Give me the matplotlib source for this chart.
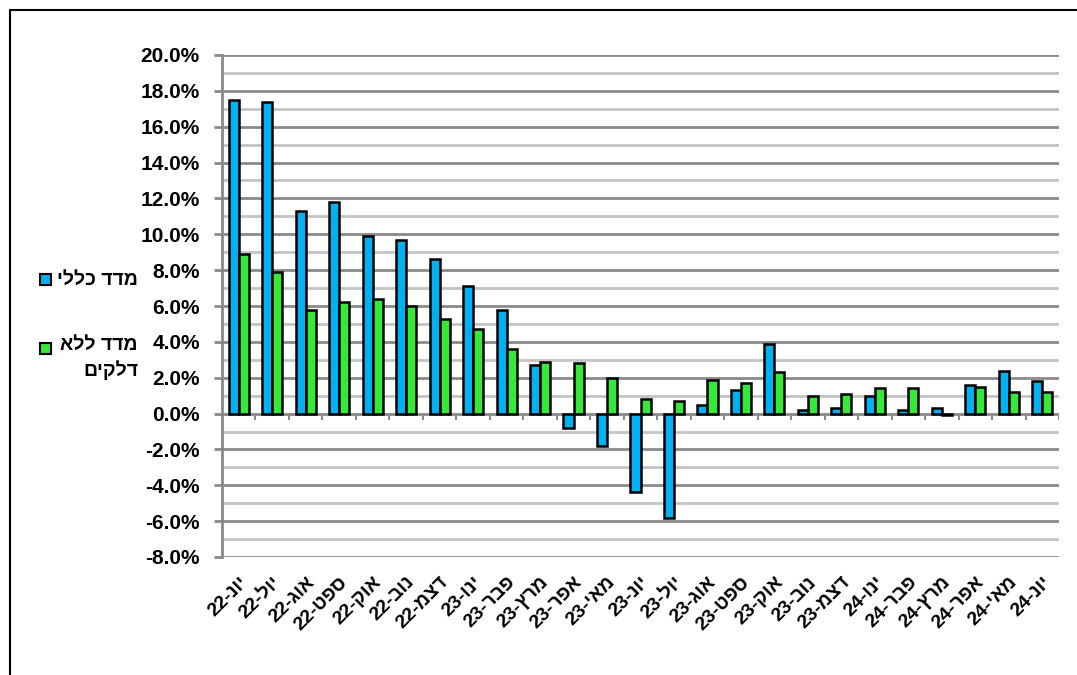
import numpy as np
import matplotlib
matplotlib.use('Agg')
import matplotlib.pyplot as plt
from matplotlib.patches import Rectangle

# data, month names in logical Hebrew order
months = ['יונ', 'יול', 'אוג', 'ספט', 'אוק', 'נוב', 'דצמ',
          'ינו', 'פבר', 'מרץ', 'אפר', 'מאי', 'יונ', 'יול', 'אוג', 'ספט', 'אוק', 'נוב', 'דצמ',
          'ינו', 'פבר', 'מרץ', 'אפר', 'מאי', 'יונ']
years = ['22'] * 7 + ['23'] * 12 + ['24'] * 6

general = [17.5, 17.4, 11.3, 11.8, 9.9, 9.7, 8.6, 7.1, 5.8, 2.7, -0.8, -1.8, -4.4,
           -5.8, 0.5, 1.3, 3.9, 0.2, 0.3, 1.0, 0.2, 0.3, 1.6, 2.4, 1.8]
no_fuel = [8.9, 7.9, 5.8, 6.2, 6.4, 6.0, 5.3, 4.7, 3.6, 2.9, 2.8, 2.0, 0.8,
           0.7, 1.9, 1.7, 2.3, 1.0, 1.1, 1.4, 1.4, -0.1, 1.5, 1.2, 1.2]

label_general = 'מדד כללי'
label_nofuel = ['מדד ללא', 'דלקים']

yticks = np.arange(-8, 20.1, 2)

blue = '#00b0f0'
green = '#35e83a'
fam = ['Liberation Sans', 'DejaVu Sans']


def vis(s):
    # matplotlib has no bidi, so hand it the visual order
    return s[::-1]


xlabels = [f'{y}-{vis(m)}' for m, y in zip(months, years)]

W, H = 1077, 675
fig = plt.figure(figsize=(W / 100, H / 100), dpi=100)
ax = fig.add_axes([222 / W, 1 - 557 / H, (1059 - 222) / W, (557 - 55) / H])

x = np.arange(len(months))
w = 0.3
ax.bar(x - w / 2, general, w, color=blue, edgecolor='black', linewidth=1.8, zorder=3)
ax.bar(x + w / 2, no_fuel, w, color=green, edgecolor='black', linewidth=1.8, zorder=3)

ax.set_xlim(-0.5, len(months) - 0.5)
ax.set_ylim(-8, 20)

# grid: darker at labelled ticks, lighter in between
for v in np.arange(-8, 20.1, 1):
    if v % 2 == 0:
        ax.axhline(v, color='#8a8a8a', lw=2, zorder=1)
    else:
        ax.axhline(v, color='#c4c4c4', lw=2, zorder=1)

# category separators hanging under the zero line
ax.vlines(np.arange(0.5, len(months)), -0.35, 0, color='#8a8a8a', lw=1.5, zorder=2)

for sp in ['top', 'right', 'bottom']:
    ax.spines[sp].set_visible(False)
ax.spines['left'].set_color('#8a8a8a')
ax.spines['left'].set_linewidth(2)

ax.set_yticks(yticks)
ax.set_yticklabels([f'{v:.1f}%' for v in yticks], fontfamily=fam,
                   fontweight='bold', fontsize=15)
ax.tick_params(axis='y', direction='out', length=6, width=2, color='#8a8a8a', pad=10)

ax.set_xticks(x)
ax.set_xticklabels(xlabels, rotation=45, ha='right', va='top', rotation_mode='anchor',
                   fontfamily=fam, fontweight='bold', fontsize=14)
ax.tick_params(axis='x', length=0, pad=12)

# legend on the left, drawn by hand
fig.add_artist(Rectangle((40 / W, 1 - 285 / H), 11 / W, 11 / H, transform=fig.transFigure,
                         facecolor=blue, edgecolor='black', lw=1.5))
fig.text(138 / W, 1 - 280 / H, vis(label_general), ha='right', va='center',
         fontfamily=fam, fontweight='bold', fontsize=14)
fig.add_artist(Rectangle((40 / W, 1 - 354 / H), 11 / W, 11 / H, transform=fig.transFigure,
                         facecolor=green, edgecolor='black', lw=1.5))
fig.text(138 / W, 1 - 337 / H, '\n'.join(vis(t) for t in label_nofuel), ha='right', va='top',
         multialignment='right', linespacing=1.4,
         fontfamily=fam, fontweight='bold', fontsize=14)

# outer frame (cropped at bottom/right like the reference)
fig.add_artist(Rectangle((10 / W, -0.1), 1.2, 1.1 - 10 / H, transform=fig.transFigure,
                         fill=False, edgecolor='black', lw=1.5))

fig.savefig('out.png', dpi=100)
